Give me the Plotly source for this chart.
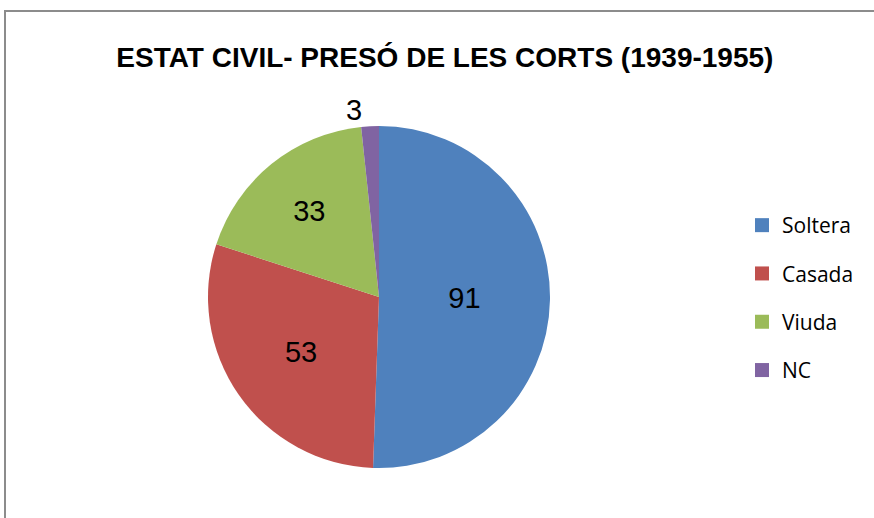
import plotly.graph_objects as go

# data
categories = ["Soltera", "Casada", "Viuda", "NC"]
values = [91, 53, 33, 3]
colors = ["#4F81BD", "#C0504D", "#9BBB59", "#8064A2"]
title_text = "ESTAT CIVIL- PRESÓ DE LES CORTS (1939-1955)"

W, H = 874, 518

fig = go.Figure()

fig.add_trace(go.Pie(
    labels=categories,
    values=values,
    marker=dict(colors=colors, line=dict(width=0)),
    sort=False,
    direction="clockwise",
    rotation=0,
    textinfo="value",
    textposition=["inside", "inside", "inside", "outside"],
    insidetextorientation="horizontal",
    textfont=dict(family="Liberation Sans, Arial", size=29, color="black"),
    showlegend=False,
    hoverinfo="label+value+percent",
    domain=dict(x=[208 / W, 550 / W], y=[1 - 468 / H, 1 - 126 / H]),
))

# legend entries, one group each so the spacing can be set
for cat, col in zip(categories, colors):
    fig.add_trace(go.Scatter(
        x=[None], y=[None], mode="markers", name=cat,
        marker=dict(symbol="square", size=14, color=col),
        legendgroup=cat, showlegend=True,
    ))

fig.update_layout(
    width=W, height=H,
    margin=dict(l=0, r=0, t=0, b=0, autoexpand=False),
    paper_bgcolor="white", plot_bgcolor="white",
    title=dict(text="<b>" + title_text + "</b>", x=0.509, xanchor="center",
               y=1 - 57 / H, yanchor="middle",
               font=dict(family="Liberation Sans, Arial", size=28, color="black")),
    xaxis=dict(visible=False), yaxis=dict(visible=False),
    legend=dict(x=742 / W, y=1 - 205 / H, xanchor="left", yanchor="top",
                font=dict(family="Open Sans", size=21, color="black"),
                tracegroupgap=18, bgcolor="rgba(0,0,0,0)"),
    shapes=[dict(type="rect", xref="paper", yref="paper",
                 x0=5 / W, x1=1.05, y0=-0.05, y1=1 - 11 / H,
                 line=dict(color="#8c8c8c", width=2))],
)

# drop the default page margin so the figure sits at the window corner
fig.write_html("out.html", config={"displayModeBar": False},
               post_script="document.body.style.margin='0';document.body.style.overflow='hidden';")
